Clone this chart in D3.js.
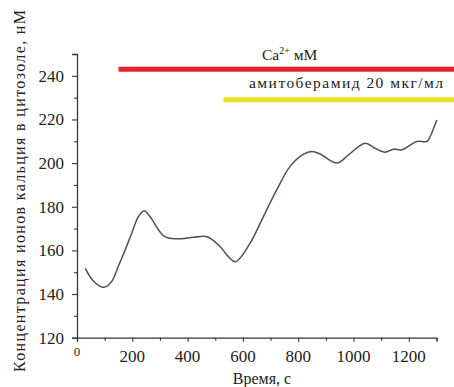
<!DOCTYPE html>
<html><head><meta charset="utf-8">
<script src="https://cdn.jsdelivr.net/npm/d3@7"></script>
<style>html,body{margin:0;padding:0;background:#fff;}svg{display:block;}</style>
</head><body>
<script>
// Data
const timeS = [30, 60, 97, 125, 149, 174, 198, 222, 243, 264, 314, 362, 422, 470, 518, 545, 573, 626, 674, 722, 770, 818, 849, 879, 940, 982, 1042, 1078, 1114, 1144, 1175, 1229, 1265, 1277, 1301];
const caNM  = [151.8, 145.9, 143.1, 145.7, 152.6, 160.2, 167.9, 175.5, 178.2, 175.5, 166.6, 165.3, 166, 166.3, 161.7, 157.5, 154.8, 163.3, 175.5, 187.7, 198.4, 204.0, 205.3, 204.2, 200, 203.8, 209.1, 206.8, 205, 206.4, 206.1, 209.9, 209.9, 212.2, 219.8];
const xTicks = [0, 200, 400, 600, 800, 1000, 1200];
const yTicks = [120, 140, 160, 180, 200, 220, 240];
const treatments = [
  {label: "Ca", sup: "2+", rest: " мМ", start: 150, level: 243, color: "#e8232b"},
  {label: "амитоберамид 20 мкг/мл", sup: "", rest: "", start: 530, level: 229, color: "#ece21e"}
];
const xLabel = "Время, с";
const yLabel = "Концентрация ионов кальция в цитозоле, нМ";

const W = 454, H = 387;
const FONT = "Liberation Serif, Times New Roman, serif";
const svg = d3.select("body").append("svg").attr("width", W).attr("height", H)
  .attr("font-family", FONT);

const x = d3.scaleLinear().domain([0, 1300]).range([77, 436.5]);
const y = d3.scaleLinear().domain([120, 250]).range([337.7, 54]);
const axisColor = "#3a3535";

// treatment bars (extend to the right edge)
treatments.forEach(t => {
  svg.append("line")
    .attr("x1", x(t.start)).attr("x2", W)
    .attr("y1", y(t.level)).attr("y2", y(t.level))
    .attr("stroke", t.color).attr("stroke-width", 5);
});
const t0 = svg.append("text").attr("x", 262).attr("y", 60).attr("font-size", 15.5).attr("fill", "#222");
t0.append("tspan").text(treatments[0].label);
t0.append("tspan").text(treatments[0].sup).attr("font-size", 10).attr("dy", -6);
t0.append("tspan").text(treatments[0].rest).attr("dy", 6);
svg.append("text").attr("x", 249).attr("y", 88).attr("font-size", 15.5).attr("fill", "#222")
  .attr("textLength", 194).text(treatments[1].label);

// axes
const gx = svg.append("g").attr("transform", `translate(0,${y(120)})`)
  .call(d3.axisBottom(x).tickValues(d3.range(0, 1301, 100)).tickSize(4).tickFormat(""));
gx.selectAll(".tick line").attr("y2", d => d % 200 === 0 ? 4 : 3);
const gy = svg.append("g").attr("transform", `translate(${x(0)},0)`)
  .call(d3.axisLeft(y).tickValues(d3.range(120, 251, 10)).tickSize(5).tickFormat(""));
gy.selectAll(".tick line").attr("x2", d => d % 20 === 0 ? -5 : -3);
[gx, gy].forEach(g => {
  g.select(".domain").attr("stroke", axisColor).attr("stroke-width", 1.3);
  g.selectAll(".tick line").attr("stroke", axisColor).attr("stroke-width", 1.1);
});

// tick labels
svg.append("g").selectAll("text").data(xTicks).join("text")
  .attr("x", d => x(d)).attr("y", d => d === 0 ? 356 : 362)
  .attr("text-anchor", "middle").attr("font-size", d => d === 0 ? 13 : 17).attr("fill", "#222")
  .text(d => d);
svg.append("g").selectAll("text").data(yTicks).join("text")
  .attr("x", 64).attr("y", d => y(d) + 6)
  .attr("text-anchor", "end").attr("font-size", 17).attr("fill", "#222")
  .text(d => d);

// axis titles
svg.append("text").attr("x", 262).attr("y", 384).attr("text-anchor", "middle")
  .attr("font-size", 16).attr("fill", "#222").text(xLabel);
svg.append("text").attr("transform", "translate(25,191) rotate(-90)")
  .attr("text-anchor", "middle").attr("font-size", 16).attr("fill", "#222")
  .attr("textLength", 362).text(yLabel);

// curve
const line = d3.line().x((d, i) => x(timeS[i])).y(d => y(d)).curve(d3.curveCatmullRom.alpha(0.5));
svg.append("path").datum(caNM).attr("d", line)
  .attr("fill", "none").attr("stroke", "#5b4c4a").attr("stroke-width", 1.5);
</script>
</body></html>
